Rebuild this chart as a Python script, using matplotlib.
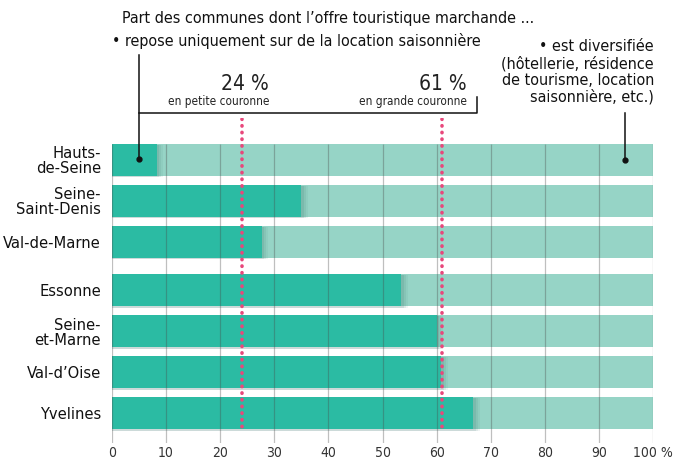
import matplotlib
matplotlib.use("Agg")
import matplotlib.pyplot as plt
from matplotlib import font_manager as fm

# ---------------- data ----------------
departements = ["Hauts-\nde-Seine", "Seine-\nSaint-Denis", "Val-de-Marne",
                "Essonne", "Seine-\net-Marne", "Val-d’Oise", "Yvelines"]
location_seule = [8.3, 35.0, 27.7, 53.5, 60.0, 60.9, 66.8]   # % communes
ref_values = [24, 61]
ref_labels = ["en petite couronne", "en grande couronne"]
xticks = [0, 10, 20, 30, 40, 50, 60, 70, 80, 90, 100]
xtick_labels = ["0", "10", "20", "30", "40", "50", "60", "70", "80", "90", "100 %"]

# ---------------- fonts ----------------
names = {f.name for f in fm.fontManager.ttflist}
stretch = "normal"
if "Liberation Sans Narrow" in names:
    fam = ["Liberation Sans Narrow", "DejaVu Sans"]
elif "DejaVu Sans Condensed" in names:
    fam = ["DejaVu Sans Condensed", "DejaVu Sans"]
else:
    fam = ["DejaVu Sans"]
    stretch = "condensed"
plt.rcParams["font.family"] = fam
plt.rcParams["font.stretch"] = stretch

W, H = 679, 461
fig = plt.figure(figsize=(W / 100, H / 100), dpi=100)

def fx(px):
    return px / W

def fy(py):
    return 1 - py / H

# axes: x 0..100 from px 112..653 ; y from px 118 (top) to 443 (bottom)
ax = fig.add_axes([fx(112), fy(443), fx(653) - fx(112), (443 - 118) / H])
unit = 41.0
y0 = 159.7
ax.set_xlim(0, 100)
ax.set_ylim((443 - y0) / unit, (118 - y0) / unit)

ypos = [0, 1, 2, 3.18, 4.18, 5.18, 6.18]
bh = 0.79

dark = "#2bbba3"
light = "#96d4c6"
pink = "#e8477b"

ax.barh(ypos, [100] * len(ypos), height=bh, color=light, zorder=1)
# soft shadow on the right of the dark bars
for k, a in [(1.2, 0.06), (0.8, 0.08), (0.4, 0.10)]:
    ax.barh([y + 0.03 for y in ypos], [v + k for v in location_seule], height=bh,
            color="#1f5f55", alpha=a, zorder=1.5, linewidth=0)
ax.barh(ypos, location_seule, height=bh, color=dark, zorder=2)

# grid lines
ax.vlines(xticks, ypos[0] - bh / 2, (443 - y0) / unit, color="#4a4a4a",
          alpha=0.35, lw=0.9, zorder=3)

# reference dotted lines
for v in ref_values:
    ax.plot([v, v], [(119 - y0) / unit, ypos[-1] + bh / 2], color=pink, lw=2.6,
            linestyle=(0, (0.1, 1.75)), dash_capstyle="round", zorder=4)

ax.set_xticks(xticks)
ax.set_xticklabels(xtick_labels)
ax.tick_params(axis="x", length=0, pad=2, labelsize=10, labelcolor="#333333")
ax.set_yticks(ypos)
ax.set_yticklabels(departements, linespacing=1.0)
ax.tick_params(axis="y", length=0, pad=8, labelsize=11.8, labelcolor="#111111")
for s in ax.spines.values():
    s.set_visible(False)

# ---------------- annotations ----------------
def px2data(px, py):
    return (px - 112) / 541 * 100, (py - y0) / unit

# left leader
x_l = px2data(139, 0)[0]
ax.plot([x_l, x_l], [px2data(0, 55)[1], px2data(0, 159)[1]], color="#111111",
        lw=1.1, zorder=5, clip_on=False)
ax.plot([x_l], [px2data(0, 159)[1]], "o", color="#111111", ms=3.5, zorder=5, clip_on=False)
# bracket horizontal
x_r = px2data(477, 0)[0]
ax.plot([x_l, x_r, x_r], [px2data(0, 113)[1]] * 2 + [px2data(0, 97)[1]],
        color="#111111", lw=1.1, zorder=5, clip_on=False)
# right leader
x_d = px2data(625, 0)[0]
ax.plot([x_d, x_d], [px2data(0, 113)[1], px2data(0, 160)[1]], color="#111111",
        lw=1.1, zorder=5, clip_on=False)
ax.plot([x_d], [px2data(0, 160)[1]], "o", color="#111111", ms=3.5, zorder=5, clip_on=False)

tc = "#111111"
fig.text(fx(122), fy(19), "Part des communes dont l’offre touristique marchande ...",
         ha="left", va="center", fontsize=11.5, color=tc)
fig.text(fx(112), fy(41), "• repose uniquement sur de la location saisonnière",
         ha="left", va="center", fontsize=11.5, color=tc)
fig.text(fx(654), fy(72), "• est diversifiée\n(hôtellerie, résidence\nde tourisme, location\nsaisonnière, etc.)",
         ha="right", va="center", fontsize=11.5, color=tc, linespacing=1.12)

for v, lab, xr in zip(ref_values, ref_labels, [269, 467]):
    fig.text(fx(xr), fy(90), f"{v} %", ha="right", va="baseline", fontsize=15, color="#222222")
    fig.text(fx(xr), fy(105.5), lab, ha="right", va="baseline", fontsize=8.5, color="#222222")

fig.savefig("out.png", dpi=100)
